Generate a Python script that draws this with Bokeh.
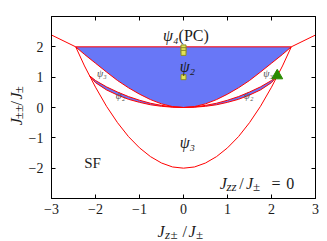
import math
from bokeh.plotting import figure
from bokeh.models import Range1d, FixedTicker, LinearAxis, Label
from bokeh.layouts import row, column
from bokeh.embed import file_html
from bokeh.resources import INLINE

# ---------------- data ----------------
x_ticks = [-3, -2, -1, 0, 1, 2, 3]
y_ticks = [-2, -1, 0, 1, 2]

# horizontal PC boundary
pc_x = [-2.45, 2.45]
pc_y = [2.0, 2.0]

# outer SF boundary lines
outer_left_x = [-3.0, -2.45]
outer_left_y = [2.39, 2.0]
outer_right_x = [2.45, 3.0]
outer_right_y = [2.0, 2.39]

# big psi3 / SF boundary
psi3_x = [-2.45, -2.25, -2.0, -1.75, -1.5, -1.25, -1.0, -0.75, -0.5, -0.25, 0.0,
          0.25, 0.5, 0.75, 1.0, 1.25, 1.5, 1.75, 2.0, 2.25, 2.45]
psi3_y = [2.0, 1.37, 0.67, 0.04, -0.5, -0.96, -1.33, -1.62, -1.83, -1.96, -2.0,
          -1.96, -1.83, -1.62, -1.33, -0.96, -0.5, 0.04, 0.67, 1.37, 2.0]

# lower boundary of the big psi2 region
psi2_x = [-2.45, -2.25, -2.0, -1.75, -1.5, -1.25, -1.0, -0.75, -0.5, -0.25, 0.0,
          0.25, 0.5, 0.75, 1.0, 1.25, 1.5, 1.75, 2.0, 2.25, 2.45]
psi2_y = [2.0, 1.75, 1.46, 1.17, 0.89, 0.65, 0.44, 0.26, 0.12, 0.03, 0.0,
          0.03, 0.12, 0.26, 0.44, 0.65, 0.89, 1.17, 1.46, 1.75, 2.0]

# thin psi2 band
band_x = [-2.13, -2.0, -1.75, -1.5, -1.25, -1.0, -0.75, -0.5, -0.25, 0.0,
          0.25, 0.5, 0.75, 1.0, 1.25, 1.5, 1.75, 2.0, 2.13]
band_hi = [1.04, 0.89, 0.68, 0.51, 0.36, 0.24, 0.14, 0.07, 0.02, 0.0,
           0.02, 0.07, 0.14, 0.24, 0.36, 0.51, 0.68, 0.89, 1.04]
band_lo = [1.04, 0.82, 0.58, 0.41, 0.27, 0.17, 0.09, 0.04, 0.01, 0.0,
           0.01, 0.04, 0.09, 0.17, 0.27, 0.41, 0.58, 0.82, 1.04]

# markers
sq_x = [0.0, 0.0, 0.0, 0.0]
sq_y = [1.98, 1.89, 1.80, 1.0]
tri_x = [2.13]
tri_y = [1.05]

# ---------------- styling ----------------
FONT = "Liberation Serif"
TXT = "#1a1a1a"
GRAY = "#4a4a4a"
RED = "#ff0000"
BLUE = "#6877f7"

# ---------------- main figure ----------------
p = figure(width=295, height=219, x_range=Range1d(-3, 3), y_range=Range1d(-3, 3),
           output_backend="svg", toolbar_location=None,
           min_border_left=20, min_border_right=5, min_border_top=16, min_border_bottom=21)
p.grid.visible = False
p.outline_line_color = "black"
p.outline_line_width = 1
p.background_fill_color = "white"
p.border_fill_color = "white"

for ax, ticks in ((p.xaxis[0], x_ticks), (p.yaxis[0], y_ticks)):
    ax.ticker = FixedTicker(ticks=ticks)
    ax.major_tick_in = 4
    ax.major_tick_out = 0
    ax.minor_tick_in = 0
    ax.minor_tick_out = 0
    ax.axis_line_color = "black"
    ax.major_tick_line_color = "black"
    ax.major_label_text_font = FONT
    ax.major_label_text_font_size = "14px"
    ax.major_label_text_color = TXT
p.xaxis.major_label_standoff = 5
p.yaxis.major_label_standoff = 8

for loc, ticks in (("above", x_ticks), ("right", y_ticks)):
    ax = LinearAxis(ticker=FixedTicker(ticks=ticks), major_tick_in=4, major_tick_out=0,
                    minor_tick_in=0, minor_tick_out=0, major_label_text_font_size="0px",
                    major_label_text_alpha=0, major_label_standoff=0,
                    axis_line_color="black", major_tick_line_color="black")
    p.add_layout(ax, loc)

# regions
p.varea(x=psi2_x, y1=psi2_y, y2=[pc_y[0]] * len(psi2_x), fill_color=BLUE)
p.varea(x=band_x, y1=band_lo, y2=band_hi, fill_color=BLUE)

# boundaries
p.line(pc_x, pc_y, line_color=RED, line_width=1)
p.line(outer_left_x, outer_left_y, line_color=RED, line_width=1)
p.line(outer_right_x, outer_right_y, line_color=RED, line_width=1)
p.line(psi3_x, psi3_y, line_color=RED, line_width=1)
p.line(psi2_x, psi2_y, line_color=RED, line_width=1)
p.line(band_x, band_hi, line_color=RED, line_width=1)
p.line(band_x, band_lo, line_color=RED, line_width=1)

# markers
p.scatter(sq_x, sq_y, marker="square", size=5, fill_color="#e2e255", line_color="#8c8c28", line_width=1)
p.scatter(tri_x, tri_y, marker="triangle", size=11, fill_color="#2a8c00", line_color="#2a8c00")

# ---------------- text inside the frame ----------------
# page pixel -> data (frame spans page x 45..315, y 16..198)
def dx(px):
    return -3 + (px - 45) / 45.0

def dy(py):
    return 3 - (py - 16) * 6 / 182.0

def lab(fig, x, y, text, size=15, italic=False, color=TXT, align="left",
        baseline="alphabetic", angle=0.0):
    fig.add_layout(Label(x=x, y=y, text=text, text_font=FONT,
                         text_font_size=f"{size}px",
                         text_font_style="italic" if italic else "normal",
                         text_color=color, text_align=align, text_baseline=baseline,
                         angle=angle))

def plab(X, Y, text, size=15, italic=False, color=TXT, align="left", baseline="alphabetic"):
    lab(p, dx(X), dy(Y), text, size, italic, color, align, baseline)

plab(175, 35, "ψ₄", 16, italic=True, align="right", baseline="middle")
plab(175, 35, "(PC)", 16, align="left", baseline="middle")
plab(184, 66, "ψ₂", 16, italic=True, align="center", baseline="middle")
plab(184, 142, "ψ₃", 16, italic=True, align="center", baseline="middle")
plab(87, 162, "SF", 15, align="center", baseline="middle")
plab(96.5, 72.5, "ψ₃", 10, italic=True, color=GRAY, align="center", baseline="middle")
plab(266.5, 72.5, "ψ₃", 10, italic=True, color=GRAY, align="center", baseline="middle")
plab(115.5, 94.5, "ψ₂", 10, italic=True, color=GRAY, align="center", baseline="middle")
plab(246.5, 94.5, "ψ₂", 10, italic=True, color=GRAY, align="center", baseline="middle")

# J_zz / J_± = 0
plab(217, 183, "J", 16, italic=True)
plab(224, 186, "zz", 13, italic=True)
plab(237, 183, "/", 16)
plab(244, 183, "J", 16, italic=True)
plab(251, 186, "±", 13)
plab(270, 183, "=", 16)
plab(285, 183, "0", 16)

# ---------------- y axis title (own strip, page x 0..25) ----------------
yfig = figure(width=25, height=219, x_range=Range1d(0, 25), y_range=Range1d(0, 219),
              output_backend="svg", toolbar_location=None,
              x_axis_location=None, y_axis_location=None, min_border=0)
yfig.grid.visible = False
yfig.outline_line_color = None
yfig.background_fill_color = "white"
yfig.border_fill_color = "white"
R = math.pi / 2
def ylab(X, Y, text, size, italic=False):
    lab(yfig, X, 219 - Y, text, size, italic, angle=R)
ylab(15.5, 131, "J", 16, italic=True)
ylab(17.5, 123.5, "±±", 13)
ylab(15.5, 107, "/", 16)
ylab(15.5, 100, "J", 16, italic=True)
ylab(17.5, 92.5, "±", 13)

# ---------------- x axis title (own strip, page y 219..241) ----------------
xfig = figure(width=320, height=22, x_range=Range1d(0, 320), y_range=Range1d(0, 22),
              output_backend="svg", toolbar_location=None,
              x_axis_location=None, y_axis_location=None, min_border=0)
xfig.grid.visible = False
xfig.outline_line_color = None
xfig.background_fill_color = "white"
xfig.border_fill_color = "white"
def xlab(X, Y, text, size, italic=False):
    lab(xfig, X, 241 - Y, text, size, italic)
xlab(157, 231, "J", 16, italic=True)
xlab(164.5, 234, "z", 13, italic=True)
xlab(170, 234, "±", 13)
xlab(182, 231, "/", 16)
xlab(188, 231, "J", 16, italic=True)
xlab(195.5, 234, "±", 13)

layout = column(row(yfig, p, spacing=0), xfig, spacing=0)

open("out.html", "w").write(file_html(layout, INLINE))
